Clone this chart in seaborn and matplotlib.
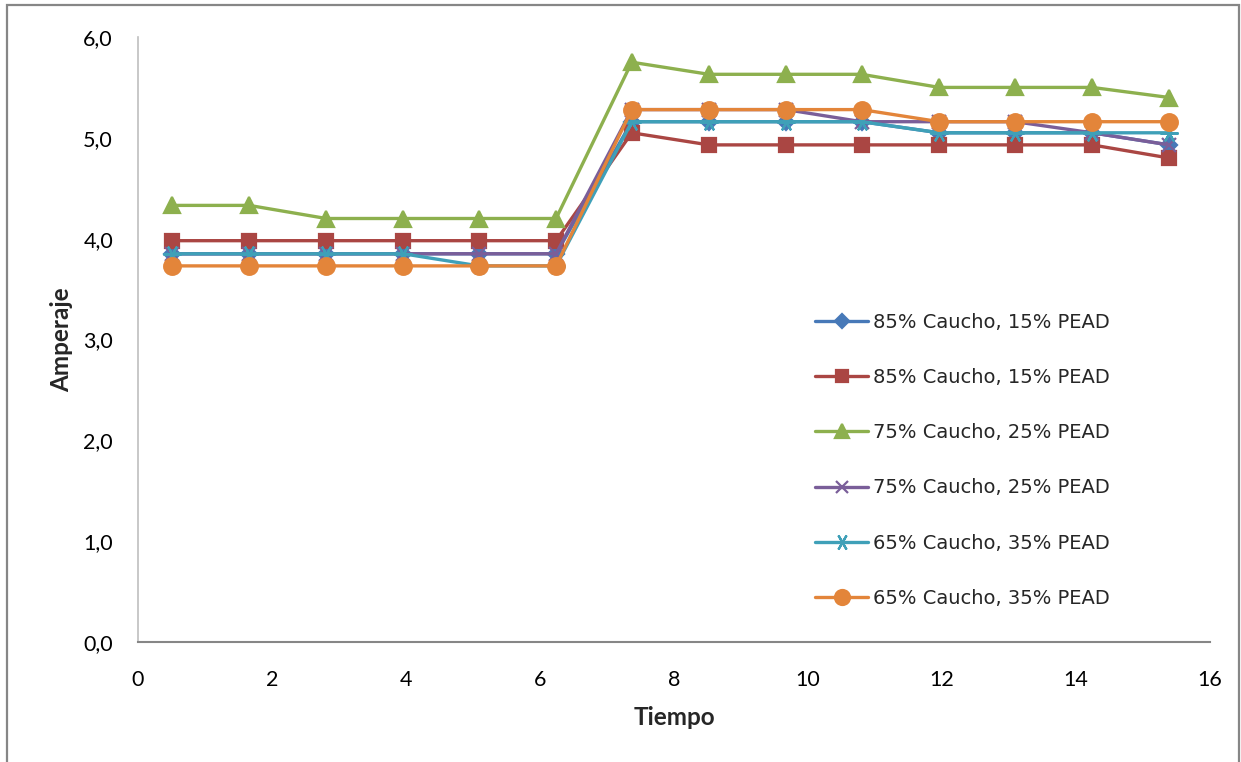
import numpy as np
import pandas as pd
import seaborn as sns
import matplotlib
matplotlib.use('Agg')
import matplotlib.pyplot as plt
from matplotlib.ticker import FuncFormatter, MultipleLocator
from matplotlib.patches import Rectangle

# data
tiempo = [0.51, 1.66, 2.81, 3.96, 5.09, 6.24, 7.37, 8.52, 9.67, 10.8, 11.96, 13.09, 14.24, 15.39]

c85_a = [3.85, 3.85, 3.85, 3.85, 3.85, 3.85, 5.16, 5.16, 5.16, 5.16, 5.05, 5.05, 5.05, 4.93]
c85_b = [3.98, 3.98, 3.98, 3.98, 3.98, 3.98, 5.05, 4.93, 4.93, 4.93, 4.93, 4.93, 4.93, 4.80]
c75_a = [4.33, 4.33, 4.20, 4.20, 4.20, 4.20, 5.75, 5.63, 5.63, 5.63, 5.50, 5.50, 5.50, 5.40]
c75_b = [3.85, 3.85, 3.85, 3.85, 3.85, 3.85, 5.28, 5.28, 5.28, 5.16, 5.16, 5.16, 5.05, 4.93]
c65_a = [3.85, 3.85, 3.85, 3.85, 3.73, 3.73, 5.16, 5.16, 5.16, 5.16, 5.05, 5.05, 5.05, 5.05]
c65_b = [3.73, 3.73, 3.73, 3.73, 3.73, 3.73, 5.28, 5.28, 5.28, 5.28, 5.16, 5.16, 5.16, 5.16]

labels = ['85% Caucho, 15% PEAD', '85% Caucho, 15% PEAD',
          '75% Caucho, 25% PEAD', '75% Caucho, 25% PEAD',
          '65% Caucho, 35% PEAD', '65% Caucho, 35% PEAD']
series = [c85_a, c85_b, c75_a, c75_b, c65_a, c65_b]
colors = ['#4779B8', '#AA4643', '#8DB04E', '#7A5E99', '#3FA0B8', '#E3853A']
markers = ['D', 's', '^', 'x', (6, 2, 90), 'o']
msizes = [8, 10, 11, 10, 13, 12]

sns.set_style('white')
plt.rcParams['font.family'] = ['Lato', 'DejaVu Sans']

fig = plt.figure(figsize=(12.41, 7.62), dpi=100)
ax = fig.add_axes([138/1241, 1-642/762, (1210-138)/1241, (642-37)/762])

for i in range(len(series)):
    sns.lineplot(x=tiempo, y=series[i], ax=ax, color=colors[i], marker=markers[i],
                 markersize=msizes[i], mec=colors[i], mfc=colors[i], mew=1.6,
                 linewidth=2.4, label=labels[i], zorder=2+i)

ax.set_xlim(0, 16)
ax.set_ylim(0, 6)
ax.xaxis.set_major_locator(MultipleLocator(2))
ax.yaxis.set_major_locator(MultipleLocator(1))
ax.yaxis.set_major_formatter(FuncFormatter(lambda v, p: f'{v:.1f}'.replace('.', ',')))
ax.tick_params(axis='both', length=0, labelsize=15.5, colors='black')
ax.tick_params(axis='y', pad=18)
ax.tick_params(axis='x', pad=20)

ax.set_xlabel('Tiempo', fontsize=17.5, fontweight='bold', labelpad=12)
ax.set_ylabel('Amperaje', fontsize=17.5, fontweight='bold', labelpad=7)

for s in ['top', 'right']:
    ax.spines[s].set_visible(False)
ax.spines['left'].set_color('#BFBFBF')
ax.spines['left'].set_linewidth(1.2)
ax.spines['bottom'].set_color('#868686')
ax.spines['bottom'].set_linewidth(1.5)

leg = ax.legend(loc='upper left', bbox_to_anchor=(0.6315, 0.544), frameon=False,
                prop={'family': 'DejaVu Sans', 'size': 14}, borderpad=0,
                borderaxespad=0, labelspacing=1.86, handlelength=2.73,
                handletextpad=0.25, markerscale=0.9)

# chart border
fig.patches.append(Rectangle((7/1241, -0.05), (1239-7)/1241, 1.05-5/762,
                             transform=fig.transFigure, fill=False,
                             edgecolor='#868686', linewidth=1.6))

fig.savefig('out.png', dpi=100)
